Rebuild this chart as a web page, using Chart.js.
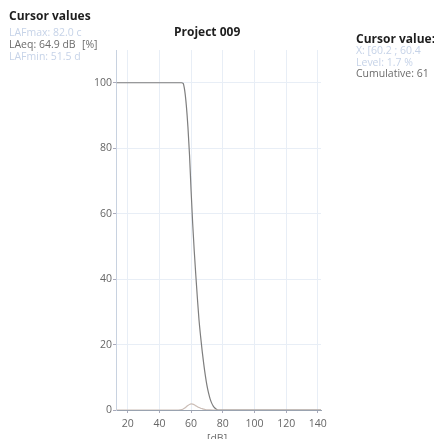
<!DOCTYPE html>
<html>
<head>
<meta charset="utf-8">
<script src="https://cdn.jsdelivr.net/npm/chart.js@4.4.1/dist/chart.umd.min.js"></script>
<style>
  html, body { margin:0; padding:0; background:#fff; }
  #wrap { position:relative; width:434px; height:439px; overflow:hidden; font-family:"Open Sans", sans-serif; }
  canvas { position:absolute; left:0; top:0; }
  .t { position:absolute; white-space:nowrap; font-size:10.5px; line-height:12px; }
  .b { font-weight:bold; color:#1e1e1e; font-size:12px; }
  .faint { color:#c6d3e8; }
  .gray { color:#6c6c6c; }
</style>
</head>
<body>
<div id="wrap">
  <canvas id="c" width="434" height="439"></canvas>
  <div class="t b" style="left:9px;top:10px;">Cursor values</div>
  <div class="t faint" style="left:9px;top:26px;">LAFmax: 82.0 c</div>
  <div class="t gray" style="left:9px;top:38px;">LAeq: 64.9 dB</div>
  <div class="t faint" style="left:9px;top:50px;">LAFmin: 51.5 d</div>
  <div class="t gray" style="left:82px;top:38px;">[%]</div>
  <div class="t b" style="left:174px;top:26px;">Project 009</div>
  <div class="t b" style="left:356px;top:33px;">Cursor value:</div>
  <div class="t faint" style="left:356px;top:44px;">X: [60.2 ; 60.4</div>
  <div class="t faint" style="left:356px;top:56px;">Level: 1.7 %</div>
  <div class="t gray" style="left:356px;top:67px;">Cumulative: 61</div>
  <div class="t gray" style="left:207px;top:432px;">[dB]</div>
</div>
<script>
// Cumulative distribution [%] vs level [dB]
const cumX = [13, 54, 55, 56, 57, 58, 59, 60, 61, 62, 63, 64, 65, 66, 67, 68, 69, 70, 71, 72, 73, 74, 75, 76, 77, 142];
const cumY = [100, 100, 99.8, 97.5, 93, 86.5, 78, 67, 57, 48.5, 41, 34, 27.5, 22.5, 18, 14, 10.5, 7.5, 5.2, 3.4, 2.1, 1.2, 0.6, 0.2, 0, 0];
// Level distribution [%]
const levX = [13, 52, 54, 55, 56, 57, 58, 59, 60, 61, 62, 63, 64, 65, 66, 67, 68, 69, 70, 72, 74, 142];
const levY = [0, 0, 0.1, 0.3, 0.6, 1.0, 1.4, 1.7, 1.85, 1.8, 1.6, 1.3, 1.0, 0.75, 0.55, 0.4, 0.25, 0.15, 0.08, 0.02, 0, 0];
const xTicks = [20, 40, 60, 80, 100, 120, 140];
const yTicks = [0, 20, 40, 60, 80, 100];

const pts = (xs, ys) => xs.map((x, i) => ({x, y: ys[i]}));

new Chart(document.getElementById('c'), {
  type: 'line',
  data: {
    datasets: [
      { data: pts(levX, levY), borderColor: '#cbbdb6', borderWidth: 1.2, pointRadius: 0, cubicInterpolationMode: 'monotone', fill: false },
      { data: pts(cumX, cumY), borderColor: '#7e7e7e', borderWidth: 1.2, pointRadius: 0, cubicInterpolationMode: 'monotone', fill: false }
    ]
  },
  options: {
    responsive: false,
    animation: false,
    events: [],
    layout: { padding: { left: 0, right: 113, top: 50, bottom: 0 } },
    plugins: { legend: { display: false }, tooltip: { enabled: false } },
    scales: {
      x: {
        type: 'linear', min: 12.6, max: 142,
        afterBuildTicks: s => { s.ticks = xTicks.map(v => ({value: v})); },
        afterFit: s => { s.height = 29; },
        ticks: { color: '#666', font: { family: 'Open Sans', size: 10.5 }, padding: 5, includeBounds: false },
        grid: { color: '#e8eef6', lineWidth: 1, tickLength: 3, tickColor: '#aab' },
        border: { color: '#9aa3b0', width: 1 }
      },
      y: {
        type: 'linear', min: 0, max: 110,
        afterBuildTicks: s => { s.ticks = yTicks.map(v => ({value: v})); },
        afterFit: s => { s.width = 116; },
        ticks: { color: '#666', font: { family: 'Open Sans', size: 10.5 }, padding: 1, includeBounds: false },
        grid: { color: '#e8eef6', lineWidth: 1, tickLength: 3, tickColor: '#aab' },
        border: { color: '#c8d2e0', width: 1 }
      }
    }
  }
});
</script>
</body>
</html>
